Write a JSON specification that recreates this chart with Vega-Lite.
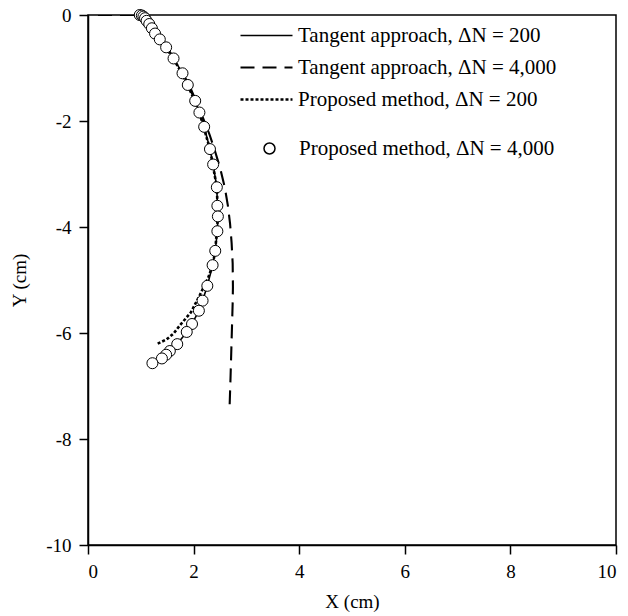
{
  "$schema": "https://vega.github.io/schema/vega-lite/v6.json",
  "width": 528,
  "height": 530,
  "autosize": {"type": "none"},
  "padding": {"left": 88, "top": 15, "right": 12, "bottom": 71},
  "background": "white",
  "config": {
    "view": {"stroke": "black", "strokeWidth": 1.5},
    "font": "Liberation Serif",
    "axis": {
      "grid": false,
      "domainColor": "black",
      "domainWidth": 1.5,
      "tickColor": "black",
      "tickWidth": 1.5,
      "tickSize": 9,
      "labelFont": "Liberation Serif",
      "labelFontSize": 19,
      "labelColor": "black",
      "labelPadding": 8,
      "titleFont": "Liberation Serif",
      "titleFontSize": 19,
      "titleFontWeight": "normal",
      "titleColor": "black"
    },
    "legend": {
      "labelFont": "Liberation Serif",
      "labelFontSize": 21,
      "labelColor": "black",
      "labelLimit": 0,
      "padding": 0,
      "titlePadding": 0
    }
  },
  "datasets": {
    "curves": [
      {"series": "Tangent approach, ΔN = 200", "i": 1, "x": 1.0, "y": 0.0},
      {"series": "Tangent approach, ΔN = 200", "i": 2, "x": 1.05, "y": -0.03},
      {"series": "Tangent approach, ΔN = 200", "i": 3, "x": 1.11, "y": -0.11},
      {"series": "Tangent approach, ΔN = 200", "i": 4, "x": 1.21, "y": -0.25},
      {"series": "Tangent approach, ΔN = 200", "i": 5, "x": 1.36, "y": -0.46},
      {"series": "Tangent approach, ΔN = 200", "i": 6, "x": 1.48, "y": -0.61},
      {"series": "Tangent approach, ΔN = 200", "i": 7, "x": 1.62, "y": -0.82},
      {"series": "Tangent approach, ΔN = 200", "i": 8, "x": 1.79, "y": -1.1},
      {"series": "Tangent approach, ΔN = 200", "i": 9, "x": 1.89, "y": -1.32},
      {"series": "Tangent approach, ΔN = 200", "i": 10, "x": 2.03, "y": -1.62},
      {"series": "Tangent approach, ΔN = 200", "i": 11, "x": 2.11, "y": -1.84},
      {"series": "Tangent approach, ΔN = 200", "i": 12, "x": 2.2, "y": -2.11},
      {"series": "Tangent approach, ΔN = 200", "i": 13, "x": 2.31, "y": -2.53},
      {"series": "Tangent approach, ΔN = 200", "i": 14, "x": 2.37, "y": -2.82},
      {"series": "Tangent approach, ΔN = 200", "i": 15, "x": 2.44, "y": -3.25},
      {"series": "Tangent approach, ΔN = 200", "i": 16, "x": 2.45, "y": -3.6},
      {"series": "Tangent approach, ΔN = 200", "i": 17, "x": 2.46, "y": -3.8},
      {"series": "Tangent approach, ΔN = 200", "i": 18, "x": 2.45, "y": -4.08},
      {"series": "Tangent approach, ΔN = 200", "i": 19, "x": 2.41, "y": -4.45},
      {"series": "Tangent approach, ΔN = 200", "i": 20, "x": 2.36, "y": -4.72},
      {"series": "Tangent approach, ΔN = 200", "i": 21, "x": 2.26, "y": -5.11},
      {"series": "Tangent approach, ΔN = 200", "i": 22, "x": 2.17, "y": -5.39},
      {"series": "Tangent approach, ΔN = 200", "i": 23, "x": 2.1, "y": -5.58},
      {"series": "Tangent approach, ΔN = 200", "i": 24, "x": 1.97, "y": -5.83},
      {"series": "Tangent approach, ΔN = 200", "i": 25, "x": 1.87, "y": -5.98},
      {"series": "Tangent approach, ΔN = 200", "i": 26, "x": 1.69, "y": -6.21},
      {"series": "Tangent approach, ΔN = 200", "i": 27, "x": 1.54, "y": -6.35},
      {"series": "Tangent approach, ΔN = 200", "i": 28, "x": 1.4, "y": -6.48},

      {"series": "Tangent approach, ΔN = 4,000", "i": 1, "x": 0.19, "y": 0.0},
      {"series": "Tangent approach, ΔN = 4,000", "i": 2, "x": 0.95, "y": 0.0},
      {"series": "Tangent approach, ΔN = 4,000", "i": 3, "x": 1.05, "y": -0.04},
      {"series": "Tangent approach, ΔN = 4,000", "i": 4, "x": 1.2, "y": -0.2},
      {"series": "Tangent approach, ΔN = 4,000", "i": 5, "x": 1.36, "y": -0.43},
      {"series": "Tangent approach, ΔN = 4,000", "i": 6, "x": 1.5, "y": -0.62},
      {"series": "Tangent approach, ΔN = 4,000", "i": 7, "x": 1.65, "y": -0.85},
      {"series": "Tangent approach, ΔN = 4,000", "i": 8, "x": 1.8, "y": -1.1},
      {"series": "Tangent approach, ΔN = 4,000", "i": 9, "x": 1.95, "y": -1.4},
      {"series": "Tangent approach, ΔN = 4,000", "i": 10, "x": 2.08, "y": -1.7},
      {"series": "Tangent approach, ΔN = 4,000", "i": 11, "x": 2.2, "y": -2.0},
      {"series": "Tangent approach, ΔN = 4,000", "i": 12, "x": 2.3, "y": -2.25},
      {"series": "Tangent approach, ΔN = 4,000", "i": 13, "x": 2.4, "y": -2.55},
      {"series": "Tangent approach, ΔN = 4,000", "i": 14, "x": 2.5, "y": -2.88},
      {"series": "Tangent approach, ΔN = 4,000", "i": 15, "x": 2.59, "y": -3.25},
      {"series": "Tangent approach, ΔN = 4,000", "i": 16, "x": 2.65, "y": -3.6},
      {"series": "Tangent approach, ΔN = 4,000", "i": 17, "x": 2.69, "y": -3.93},
      {"series": "Tangent approach, ΔN = 4,000", "i": 18, "x": 2.72, "y": -4.3},
      {"series": "Tangent approach, ΔN = 4,000", "i": 19, "x": 2.74, "y": -4.69},
      {"series": "Tangent approach, ΔN = 4,000", "i": 20, "x": 2.745, "y": -5.13},
      {"series": "Tangent approach, ΔN = 4,000", "i": 21, "x": 2.74, "y": -5.43},
      {"series": "Tangent approach, ΔN = 4,000", "i": 22, "x": 2.72, "y": -6.13},
      {"series": "Tangent approach, ΔN = 4,000", "i": 23, "x": 2.7, "y": -6.82},
      {"series": "Tangent approach, ΔN = 4,000", "i": 24, "x": 2.68, "y": -7.45},

      {"series": "Proposed method, ΔN = 200", "i": 1, "x": 1.0, "y": 0.0},
      {"series": "Proposed method, ΔN = 200", "i": 2, "x": 1.11, "y": -0.11},
      {"series": "Proposed method, ΔN = 200", "i": 3, "x": 1.21, "y": -0.25},
      {"series": "Proposed method, ΔN = 200", "i": 4, "x": 1.36, "y": -0.46},
      {"series": "Proposed method, ΔN = 200", "i": 5, "x": 1.62, "y": -0.82},
      {"series": "Proposed method, ΔN = 200", "i": 6, "x": 1.89, "y": -1.32},
      {"series": "Proposed method, ΔN = 200", "i": 7, "x": 2.11, "y": -1.84},
      {"series": "Proposed method, ΔN = 200", "i": 8, "x": 2.31, "y": -2.53},
      {"series": "Proposed method, ΔN = 200", "i": 9, "x": 2.44, "y": -3.25},
      {"series": "Proposed method, ΔN = 200", "i": 10, "x": 2.46, "y": -3.8},
      {"series": "Proposed method, ΔN = 200", "i": 11, "x": 2.41, "y": -4.45},
      {"series": "Proposed method, ΔN = 200", "i": 12, "x": 2.36, "y": -4.72},
      {"series": "Proposed method, ΔN = 200", "i": 13, "x": 2.28, "y": -4.95},
      {"series": "Proposed method, ΔN = 200", "i": 14, "x": 2.12, "y": -5.28},
      {"series": "Proposed method, ΔN = 200", "i": 15, "x": 1.95, "y": -5.61},
      {"series": "Proposed method, ΔN = 200", "i": 16, "x": 1.77, "y": -5.82},
      {"series": "Proposed method, ΔN = 200", "i": 17, "x": 1.62, "y": -6.01},
      {"series": "Proposed method, ΔN = 200", "i": 18, "x": 1.49, "y": -6.12},
      {"series": "Proposed method, ΔN = 200", "i": 19, "x": 1.32, "y": -6.2}
    ],
    "points": [
      {"series": "Proposed method, ΔN = 4,000", "x": 0.98, "y": 0.0},
      {"series": "Proposed method, ΔN = 4,000", "x": 1.02, "y": -0.01},
      {"series": "Proposed method, ΔN = 4,000", "x": 1.05, "y": -0.03},
      {"series": "Proposed method, ΔN = 4,000", "x": 1.08, "y": -0.06},
      {"series": "Proposed method, ΔN = 4,000", "x": 1.11, "y": -0.11},
      {"series": "Proposed method, ΔN = 4,000", "x": 1.16, "y": -0.17},
      {"series": "Proposed method, ΔN = 4,000", "x": 1.21, "y": -0.25},
      {"series": "Proposed method, ΔN = 4,000", "x": 1.27, "y": -0.35},
      {"series": "Proposed method, ΔN = 4,000", "x": 1.36, "y": -0.46},
      {"series": "Proposed method, ΔN = 4,000", "x": 1.48, "y": -0.61},
      {"series": "Proposed method, ΔN = 4,000", "x": 1.62, "y": -0.82},
      {"series": "Proposed method, ΔN = 4,000", "x": 1.79, "y": -1.1},
      {"series": "Proposed method, ΔN = 4,000", "x": 1.89, "y": -1.32},
      {"series": "Proposed method, ΔN = 4,000", "x": 2.03, "y": -1.62},
      {"series": "Proposed method, ΔN = 4,000", "x": 2.11, "y": -1.84},
      {"series": "Proposed method, ΔN = 4,000", "x": 2.2, "y": -2.11},
      {"series": "Proposed method, ΔN = 4,000", "x": 2.31, "y": -2.53},
      {"series": "Proposed method, ΔN = 4,000", "x": 2.37, "y": -2.82},
      {"series": "Proposed method, ΔN = 4,000", "x": 2.44, "y": -3.25},
      {"series": "Proposed method, ΔN = 4,000", "x": 2.45, "y": -3.6},
      {"series": "Proposed method, ΔN = 4,000", "x": 2.46, "y": -3.8},
      {"series": "Proposed method, ΔN = 4,000", "x": 2.45, "y": -4.08},
      {"series": "Proposed method, ΔN = 4,000", "x": 2.41, "y": -4.45},
      {"series": "Proposed method, ΔN = 4,000", "x": 2.36, "y": -4.72},
      {"series": "Proposed method, ΔN = 4,000", "x": 2.26, "y": -5.11},
      {"series": "Proposed method, ΔN = 4,000", "x": 2.17, "y": -5.39},
      {"series": "Proposed method, ΔN = 4,000", "x": 2.1, "y": -5.58},
      {"series": "Proposed method, ΔN = 4,000", "x": 1.97, "y": -5.83},
      {"series": "Proposed method, ΔN = 4,000", "x": 1.87, "y": -5.98},
      {"series": "Proposed method, ΔN = 4,000", "x": 1.69, "y": -6.21},
      {"series": "Proposed method, ΔN = 4,000", "x": 1.55, "y": -6.34},
      {"series": "Proposed method, ΔN = 4,000", "x": 1.48, "y": -6.41},
      {"series": "Proposed method, ΔN = 4,000", "x": 1.4, "y": -6.48},
      {"series": "Proposed method, ΔN = 4,000", "x": 1.22, "y": -6.57}
    ]
  },
  "layer": [
    {
      "data": {"name": "curves"},
      "mark": {"type": "line", "color": "black", "strokeCap": "butt", "clip": true},
      "encoding": {
        "x": {
          "field": "x", "type": "quantitative",
          "scale": {"domain": [0, 10], "nice": false},
          "axis": {"values": [0, 2, 4, 6, 8, 10], "title": "X (cm)", "titlePadding": 11}
        },
        "y": {
          "field": "y", "type": "quantitative",
          "scale": {"domain": [-10, 0], "nice": false},
          "axis": {"values": [0, -2, -4, -6, -8, -10], "title": "Y (cm)", "titlePadding": 16, "labelExpr": "'' + datum.value"}
        },
        "order": {"field": "i", "type": "quantitative"},
        "strokeDash": {
          "field": "series", "type": "nominal",
          "scale": {
            "domain": ["Tangent approach, ΔN = 200", "Tangent approach, ΔN = 4,000", "Proposed method, ΔN = 200"],
            "range": [[1, 0], [14, 8], [3, 2]]
          },
          "legend": {
            "title": null,
            "orient": "none",
            "legendX": 168,
            "legendY": 10,
            "symbolType": "M-4,0H4",
            "symbolSize": 169,
            "symbolStrokeColor": "black",
            "symbolStrokeWidth": 2,
            "labelOffset": 21,
            "rowPadding": 10
          }
        },
        "strokeWidth": {
          "field": "series", "type": "nominal",
          "scale": {
            "domain": ["Tangent approach, ΔN = 200", "Tangent approach, ΔN = 4,000", "Proposed method, ΔN = 200"],
            "range": [1.6, 2.6, 2]
          },
          "legend": null
        }
      }
    },
    {
      "data": {"name": "points"},
      "mark": {"type": "point", "filled": true, "fill": "white", "stroke": "black", "strokeWidth": 1, "opacity": 1, "size": 121},
      "encoding": {
        "x": {"field": "x", "type": "quantitative"},
        "y": {"field": "y", "type": "quantitative"},
        "shape": {
          "field": "series", "type": "nominal",
          "scale": {"domain": ["Proposed method, ΔN = 4,000"], "range": ["circle"]},
          "legend": {
            "title": null,
            "orient": "none",
            "legendX": 171,
            "legendY": 123,
            "symbolType": "circle",
            "symbolSize": 121,
            "labelOffset": 19,
            "encode": {
              "symbols": {
                "update": {
                  "fill": {"value": "white"},
                  "stroke": {"value": "black"},
                  "strokeWidth": {"value": 1},
                  "opacity": {"value": 1}
                }
              }
            }
          }
        }
      }
    }
  ]
}
